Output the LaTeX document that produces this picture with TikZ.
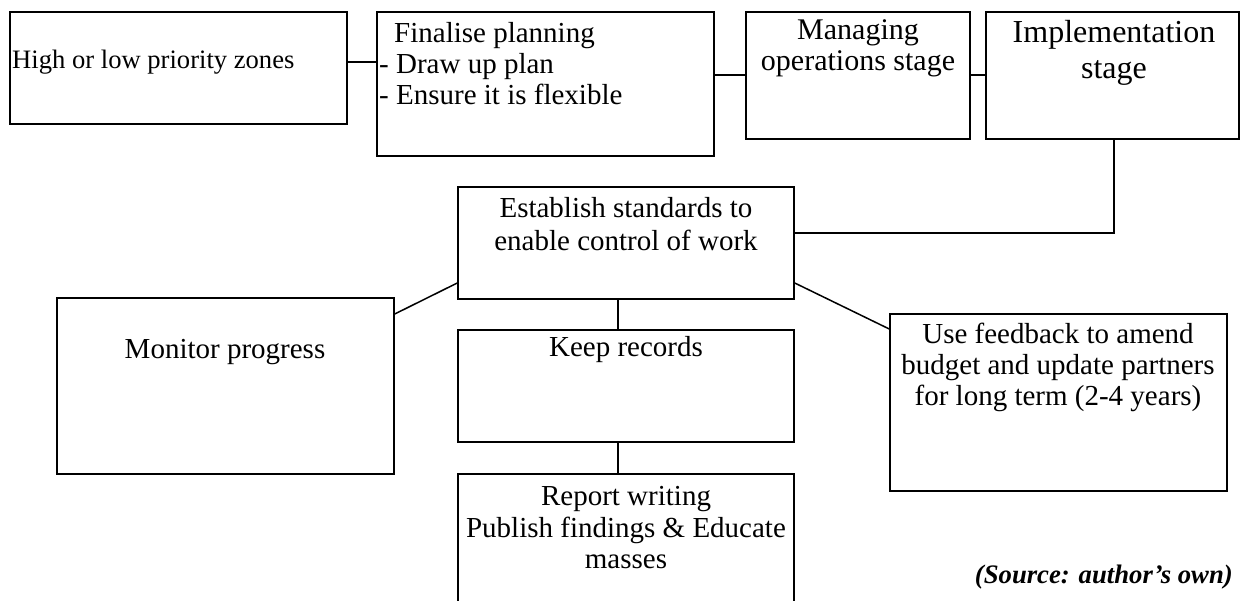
\documentclass[tikz,border=0pt]{standalone}
\usepackage{fontspec}
\setmainfont{Liberation Serif}
\begin{document}
\begin{tikzpicture}[x=1pt,y=-1pt,
  box/.style={draw, line width=1.5pt, rectangle, inner sep=0pt},
  txt/.style={inner sep=0pt, align=center, font=\fontsize{29}{31}\selectfont},
  link/.style={line width=1.5pt}]
\useasboundingbox (0,0) rectangle (1241,601);
\clip (0,0) rectangle (1241,601);
\fill[white] (0,0) rectangle (1241,601);
% boxes
\node[box, minimum width=337pt, minimum height=112pt] (A) at (178.5,68) {};
\node[box, minimum width=337pt, minimum height=144pt] (B) at (545.5,84) {};
\node[box, minimum width=224pt, minimum height=127pt] (C) at (858,75.5) {};
\node[box, minimum width=253pt, minimum height=127pt] (D) at (1112.5,75.5) {};
\node[box, minimum width=336pt, minimum height=112pt] (E) at (626,243) {};
\node[box, minimum width=337pt, minimum height=176pt] (M) at (225.5,386) {};
\node[box, minimum width=336pt, minimum height=112pt] (K) at (626,386) {};
\node[box, minimum width=337pt, minimum height=177pt] (F) at (1058.5,402.5) {};
\node[box, minimum width=336pt, minimum height=140pt] (R) at (626,544) {};
% texts
\node[txt, anchor=west, font=\fontsize{26.6}{30}\selectfont] (At) at (12,62) {High or low priority zones};
\node[txt, anchor=west, align=left] (Bt) at (379,64) {\hspace*{15pt}Finalise planning\\- Draw up plan\\- Ensure it is flexible};
\node[txt, font=\fontsize{30}{31}\selectfont] (Ct) at (858,48) {Managing\\operations stage};
\node[txt, font=\fontsize{32}{36}\selectfont] (Dt) at (1114,53) {Implementation\\stage};
\node[txt, font=\fontsize{29}{33}\selectfont] (Et) at (626,224) {Establish standards to\\enable control of work};
\node[txt] (Mt) at (225,352) {Monitor progress};
\node[txt] (Kt) at (626,350) {Keep records};
\node[txt] (Ft) at (1058,367) {Use feedback to amend\\budget and update partners\\for long term (2-4 years)};
\node[txt, font=\fontsize{29}{31.5}\selectfont] (Rt) at (626,528) {Report writing\\Publish findings \& Educate\\masses};
\node[txt, anchor=east, font=\fontsize{26.7}{30}\selectfont\bfseries\itshape] (S) at (1233,577) {(Source: author’s own)};
% connectors
\draw[link] (A.east |- 0,62) -- (B.west |- 0,62);
\draw[link] (B.east |- 0,75) -- (C.west |- 0,75);
\draw[link] (C.east |- 0,75) -- (D.west |- 0,75);
\draw[link] (D.south -| 1114,0) -- (1114,233) -- (E.east |- 0,233);
\draw[link] (E.west |- 0,283) -- (M.east |- 0,314);
\draw[link] (E.east |- 0,283) -- (F.west |- 0,329);
\draw[link] (E.south -| 618,0) -- (K.north -| 618,0);
\draw[link] (K.south -| 618,0) -- (R.north -| 618,0);
\end{tikzpicture}
\end{document}
